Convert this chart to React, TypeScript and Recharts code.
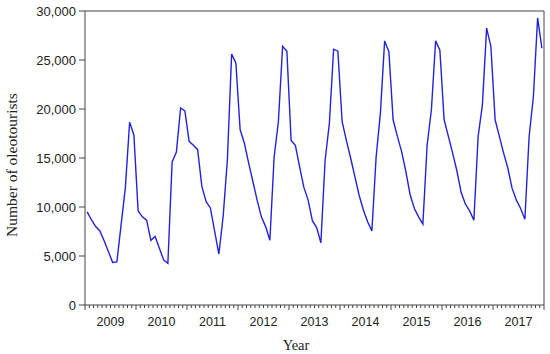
import { LineChart, Line, XAxis, YAxis, ReferenceLine } from "recharts"

const years = [2009, 2010, 2011, 2012, 2013, 2014, 2015, 2016, 2017]

// monthly oleotourists, Jan 2009 .. Dec 2017
const visitors = [
  9500, 8700, 8000, 7550, 6550, 5450, 4350, 4400, 8200, 12000, 18650, 17350,
  9600, 9000, 8650, 6600, 7000, 5800, 4600, 4250, 14600, 15600, 20100, 19800,
  16700, 16300, 15850, 12100, 10550, 9900, 7550, 5200, 9000, 14800, 25600, 24700,
  17900, 16500, 14500, 12600, 10700, 9000, 8000, 6600, 15100, 18700, 26400, 25900,
  16800, 16300, 14100, 12000, 10700, 8600, 7900, 6350, 14800, 18550, 26100, 25900,
  18700, 16800, 15000, 13100, 11200, 9700, 8500, 7550, 15100, 19550, 26950, 25850,
  18900, 17200, 15650, 13600, 11250, 9850, 9000, 8250, 16300, 19900, 26950, 26000,
  18900, 17200, 15500, 13700, 11500, 10300, 9600, 8650, 17200, 20400, 28250, 26400,
  18900, 17200, 15500, 13950, 11900, 10700, 9850, 8750, 17200, 21250, 29300, 26200,
]

const yTicks = [0, 5000, 10000, 15000, 20000, 25000, 30000]

const data = visitors.map((v, i) => ({ i, v }))
const monthBounds = Array.from({ length: visitors.length + 1 }, (_, k) => k - 0.5)

const axisColor = "#444"
const sans = "'Liberation Sans', Arial, sans-serif"
const serif = "'Liberation Serif', 'Times New Roman', serif"

function MonthTick({ x, y, payload }: any) {
  const k = Math.round(payload.value + 0.5)
  const major = k % 12 === 0
  const mid = k % 12 === 6
  return (
    <g>
      <line x1={x} x2={x} y1={y} y2={y + (major ? 5 : 3)} stroke={axisColor} />
      {mid && (
        <text x={x} y={y + 21} textAnchor="middle" fontSize={12.5} fontFamily={sans} fill="#222">
          {years[(k - 6) / 12]}
        </text>
      )}
    </g>
  )
}

export default function App() {
  return (
    <div style={{ width: 550, height: 354 }}>
      <style>{"body{margin:0}"}</style>
      <LineChart width={550} height={354} data={data} margin={{ top: 11, right: 6, bottom: 0, left: 0 }}>
        <XAxis
          dataKey="i"
          type="number"
          domain={[-0.5, 107.5]}
          ticks={monthBounds}
          interval={0}
          tick={<MonthTick />}
          tickLine={false}
          tickSize={0}
          tickMargin={0}
          height={49}
          stroke={axisColor}
          label={{
            content: () => (
              <text x={296} y={350} textAnchor="middle" fontSize={14.5} fontFamily={serif} fill="#222">
                Year
              </text>
            ),
          }}
        />
        <YAxis
          domain={[0, 30000]}
          ticks={yTicks}
          interval={0}
          width={85}
          tickSize={6}
          tickMargin={3}
          stroke={axisColor}
          tick={{ fontSize: 13, fontFamily: sans, fill: "#222" }}
          tickFormatter={(v: number) => v.toLocaleString("en-US")}
          label={{
            content: () => (
              <text
                x={11}
                y={165}
                transform="rotate(-90 11 165)"
                textAnchor="middle"
                dominantBaseline="central"
                fontSize={15.5}
                fontFamily={serif}
                fill="#222"
              >
                Number of oleotourists
              </text>
            ),
          }}
        />
        <ReferenceLine y={30000} stroke={axisColor} />
        <ReferenceLine x={107.5} stroke={axisColor} />
        <Line
          dataKey="v"
          stroke="#2222dd"
          strokeWidth={1.4}
          dot={false}
          isAnimationActive={false}
        />
      </LineChart>
    </div>
  )
}
